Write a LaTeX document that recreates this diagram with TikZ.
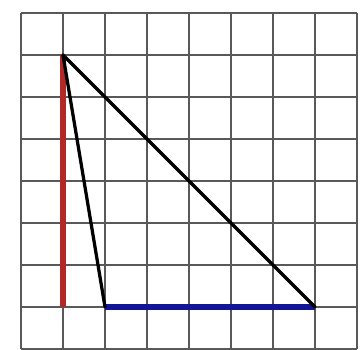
\documentclass[tikz,border=0pt]{standalone}
\begin{document}
\begin{tikzpicture}[x=1cm,y=1cm,
  gridline/.style={draw=black!65, line width=0.8pt},
  redseg/.style={draw={rgb,255:red,178;green,40;blue,38}, line width=3.8pt},
  blueseg/.style={draw={rgb,255:red,18;green,22;blue,150}, line width=3.6pt},
  blackseg/.style={draw=black, line width=2.2pt, line cap=round}]
\useasboundingbox[fill=white] (-1.5,-1.02) rectangle (7.12,7.31);
\draw[gridline] (-1,-1) grid (7,7);
\coordinate (A) at (0,6);
\coordinate (B) at (0,0);
\coordinate (C) at (1,0);
\coordinate (D) at (6,0);
\draw[redseg] (B) -- (A);
\draw[blueseg] (C) -- (D);
\draw[blackseg] (A) -- (C);
\draw[blackseg] (A) -- (D);
\end{tikzpicture}
\end{document}
